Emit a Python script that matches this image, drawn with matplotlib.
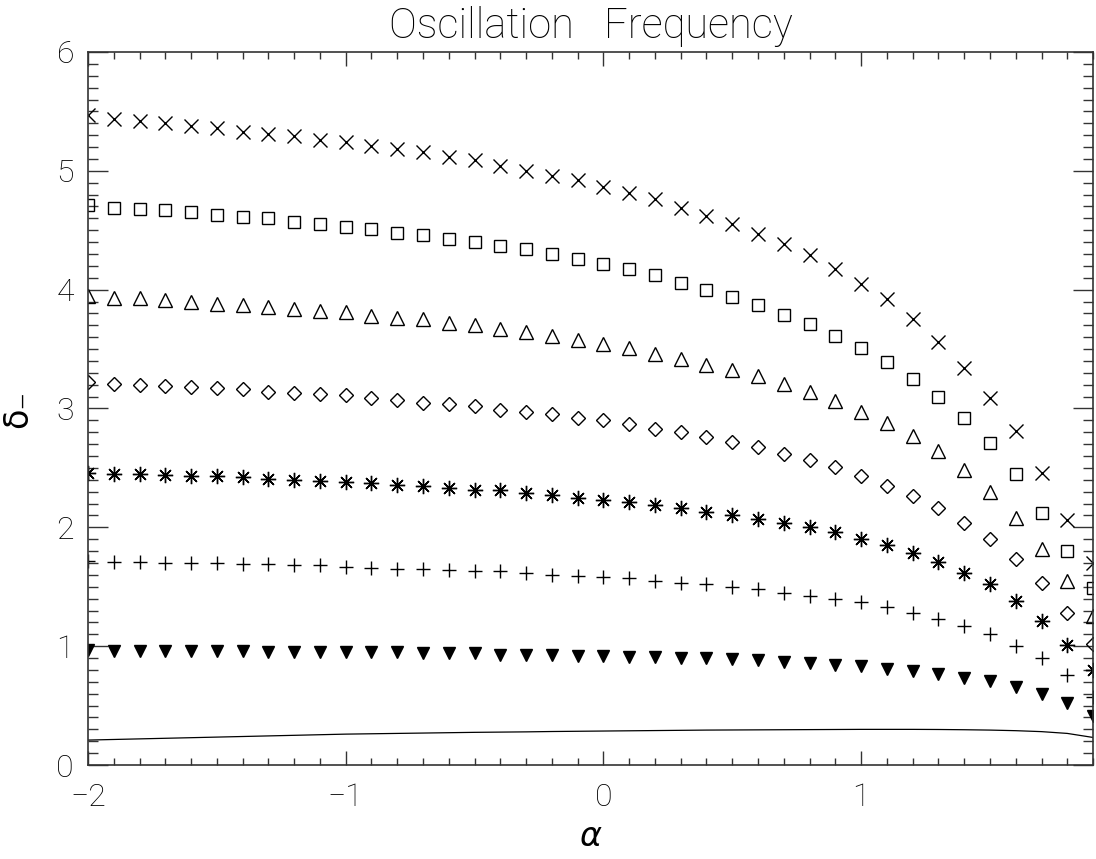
import matplotlib
matplotlib.use('Agg')
import matplotlib.pyplot as plt
from matplotlib.ticker import MultipleLocator

alpha = [-2.0, -1.9, -1.8, -1.7, -1.6, -1.5, -1.4, -1.3, -1.2, -1.1,
         -1.0, -0.9, -0.8, -0.7, -0.6, -0.5, -0.4, -0.3, -0.2, -0.1,
         0.0, 0.1, 0.2, 0.3, 0.4, 0.5, 0.6, 0.7, 0.8, 0.9,
         1.0, 1.1, 1.2, 1.3, 1.4, 1.5, 1.6, 1.7, 1.8, 1.9]

cross = [5.47, 5.44, 5.42, 5.40, 5.38, 5.36, 5.33, 5.31, 5.29, 5.26,
         5.24, 5.21, 5.18, 5.16, 5.12, 5.09, 5.04, 5.00, 4.96, 4.92,
         4.86, 4.81, 4.76, 4.69, 4.62, 4.55, 4.47, 4.38, 4.29, 4.17,
         4.05, 3.92, 3.75, 3.56, 3.34, 3.09, 2.81, 2.46, 2.06, 1.70]

square = [4.71, 4.69, 4.68, 4.67, 4.65, 4.63, 4.61, 4.60, 4.57, 4.55,
          4.53, 4.51, 4.48, 4.46, 4.43, 4.40, 4.37, 4.34, 4.30, 4.26,
          4.22, 4.17, 4.12, 4.06, 4.00, 3.94, 3.87, 3.79, 3.71, 3.61,
          3.51, 3.39, 3.25, 3.10, 2.92, 2.71, 2.45, 2.12, 1.80, 1.49]

triangle = [3.95, 3.93, 3.93, 3.91, 3.90, 3.88, 3.87, 3.85, 3.84, 3.82,
            3.81, 3.78, 3.76, 3.75, 3.72, 3.70, 3.67, 3.64, 3.61, 3.58,
            3.54, 3.51, 3.46, 3.42, 3.37, 3.32, 3.27, 3.21, 3.14, 3.06,
            2.97, 2.88, 2.77, 2.64, 2.48, 2.30, 2.08, 1.82, 1.55, 1.25]

diamond = [3.22, 3.21, 3.20, 3.19, 3.18, 3.17, 3.16, 3.14, 3.13, 3.12,
           3.11, 3.09, 3.07, 3.05, 3.04, 3.02, 2.99, 2.97, 2.95, 2.92,
           2.90, 2.87, 2.83, 2.80, 2.76, 2.72, 2.68, 2.62, 2.57, 2.51,
           2.43, 2.35, 2.26, 2.16, 2.04, 1.90, 1.73, 1.53, 1.28, 1.02]

asterisk = [2.46, 2.45, 2.45, 2.44, 2.43, 2.43, 2.42, 2.41, 2.40, 2.39,
            2.38, 2.37, 2.36, 2.35, 2.33, 2.31, 2.31, 2.29, 2.27, 2.25,
            2.23, 2.21, 2.19, 2.16, 2.13, 2.10, 2.07, 2.04, 2.00, 1.96,
            1.90, 1.85, 1.78, 1.71, 1.62, 1.52, 1.38, 1.21, 1.01, 0.80]

plus = [1.72, 1.71, 1.71, 1.70, 1.70, 1.70, 1.69, 1.69, 1.68, 1.68,
        1.67, 1.66, 1.65, 1.65, 1.64, 1.63, 1.63, 1.62, 1.60, 1.59,
        1.58, 1.57, 1.55, 1.53, 1.52, 1.50, 1.48, 1.45, 1.42, 1.40,
        1.37, 1.33, 1.28, 1.23, 1.17, 1.10, 1.00, 0.90, 0.76, 0.57]

filled = [0.97, 0.96, 0.96, 0.96, 0.96, 0.96, 0.96, 0.95, 0.95, 0.95,
          0.95, 0.95, 0.95, 0.94, 0.94, 0.94, 0.93, 0.93, 0.93, 0.92,
          0.92, 0.91, 0.91, 0.90, 0.90, 0.89, 0.88, 0.87, 0.86, 0.84,
          0.83, 0.81, 0.79, 0.77, 0.73, 0.71, 0.66, 0.60, 0.52, 0.41]

curve = [0.210, 0.215, 0.220, 0.225, 0.230, 0.235, 0.240, 0.245, 0.250, 0.255,
         0.260, 0.263, 0.266, 0.269, 0.272, 0.275, 0.277, 0.279, 0.282, 0.284,
         0.286, 0.288, 0.290, 0.292, 0.294, 0.295, 0.296, 0.297, 0.298, 0.299,
         0.300, 0.300, 0.300, 0.299, 0.297, 0.294, 0.289, 0.281, 0.266, 0.232]

plt.rcParams['font.family'] = ['Roboto', 'DejaVu Sans']
plt.rcParams['font.weight'] = 'light'
plt.rcParams['axes.titleweight'] = 'light'

fig = plt.figure(figsize=(10.96, 8.59), dpi=100)
ax = fig.add_axes([0.0803, 0.1094, 0.9170, 0.8301])

ax.plot(alpha, curve, color='black', lw=0.9)
ax.plot(alpha, cross, ls='none', marker='x', ms=10, mew=1.0, color='black')
ax.plot(alpha, square, ls='none', marker='s', ms=8.5, mew=1.0, mfc='none', mec='black')
ax.plot(alpha, triangle, ls='none', marker='^', ms=9.5, mew=1.0, mfc='none', mec='black')
ax.plot(alpha, diamond, ls='none', marker='D', ms=7, mew=1.0, mfc='none', mec='black')
ax.plot(alpha, asterisk, ls='none', marker=(8, 2, 0), ms=11, mew=1.0, color='black')
ax.plot(alpha, plus, ls='none', marker='+', ms=10, mew=1.0, color='black')
ax.plot(alpha, filled, ls='none', marker='v', ms=9, color='black')

ax.set_xlim(-2, 1.9)
ax.set_ylim(0, 6)
ax.xaxis.set_major_locator(MultipleLocator(1))
ax.xaxis.set_minor_locator(MultipleLocator(0.1))
ax.yaxis.set_major_locator(MultipleLocator(1))
ax.yaxis.set_minor_locator(MultipleLocator(0.1))

ax.tick_params(axis='both', which='both', direction='in', top=True, right=True,
               labelsize=23, width=1.0, color='#333333')
ax.tick_params(axis='x', which='major', length=10, pad=13)
ax.tick_params(axis='x', which='minor', length=5)
ax.tick_params(axis='y', which='major', length=14.5, pad=10)
ax.tick_params(axis='y', which='minor', length=7)
for s in ax.spines.values():
    s.set_linewidth(1.2)
    s.set_color('#333333')

ax.set_title('Oscillation   Frequency', fontsize=30, pad=10)
ax.set_xlabel('α', fontsize=24, style='italic', family='DejaVu Sans',
              fontweight='normal', labelpad=6)
ax.set_ylabel('δ₋', fontsize=24, family='DejaVu Sans', fontweight='normal',
              labelpad=16)

fig.savefig('out.png', dpi=100)
